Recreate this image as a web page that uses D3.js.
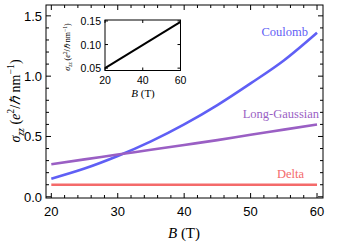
<!DOCTYPE html>
<meta charset="utf-8">
<style>
  body { margin: 0; background: #fff; }
  text { fill: #000; }
</style>
<body>
<script src="https://d3js.org/d3.v7.min.js"></script>
<script>
// chart data
const bField = [20, 25, 30, 35, 40, 45, 50, 55, 60];
const coulomb = [0.15, 0.234, 0.338, 0.459, 0.60, 0.76, 0.94, 1.13, 1.36];
const longGaussian = [0.27, 0.31, 0.35, 0.39, 0.43, 0.47, 0.515, 0.557, 0.60];
const delta = [0.10, 0.10, 0.10, 0.10, 0.10, 0.10, 0.10, 0.10, 0.10];
const insetB = [20, 60];
const insetVals = [0.05, 0.148];
const xTicks = [20, 30, 40, 50, 60];
const yTicks = [0.0, 0.5, 1.0, 1.5];
const insetXTicks = [20, 40, 60];
const insetYTicks = [0.05, 0.10, 0.15];

const width = 339, height = 246;
const svg = d3.select("body").append("svg")
  .attr("width", width).attr("height", height);

const x = d3.scaleLinear().domain([19.2, 60.9]).range([46, 323]);
const y = d3.scaleLinear().domain([-0.01, 1.59]).range([198, 5]);

// series lines
const series = [
  {name: "Coulomb", vals: coulomb, color: "#5f5ff5"},
  {name: "Long-Gaussian", vals: longGaussian, color: "#9a5fc4"},
  {name: "Delta", vals: delta, color: "#f46a6a"}
];
const line = d3.line().curve(d3.curveMonotoneX);
series.forEach(s => {
  svg.append("path")
    .attr("d", line(bField.map((b, i) => [x(b), y(s.vals[i])])))
    .attr("fill", "none")
    .attr("stroke", s.color)
    .attr("stroke-width", 2.6);
});

// series labels
const labels = [
  {t: "Coulomb", b: 60, v: 1.36, dx: -9, dy: 3, c: "#5f5ff5"},
  {t: "Long-Gaussian", b: 60, v: 0.60, dx: 2, dy: -6, c: "#9a5fc4"},
  {t: "Delta", b: 60, v: 0.10, dx: -13, dy: -7, c: "#f46a6a"}
];
labels.forEach(l => {
  svg.append("text")
    .attr("x", x(l.b) + l.dx).attr("y", y(l.v) + l.dy)
    .attr("text-anchor", "end")
    .style("font-family", "Liberation Serif, serif")
    .style("font-size", "12.5px")
    .style("fill", l.c)
    .text(l.t);
});

// frame and ticks
svg.append("rect")
  .attr("x", 46).attr("y", 5).attr("width", 277).attr("height", 193)
  .attr("fill", "none").attr("stroke", "#000").attr("stroke-width", 1);

const g = svg.append("g").attr("font-family", "Liberation Sans, Arial, sans-serif");
const xMinor = d3.range(20, 61, 2);
const yMinor = d3.range(0, 1.59, 0.1);
xMinor.forEach(v => {
  const major = v % 10 === 0;
  const len = major ? 5 : 3;
  g.append("line").attr("x1", x(v)).attr("x2", x(v)).attr("y1", 198).attr("y2", 198 - len).attr("stroke", "#000");
  g.append("line").attr("x1", x(v)).attr("x2", x(v)).attr("y1", 5).attr("y2", 5 + len).attr("stroke", "#000");
});
yMinor.forEach(v => {
  const major = Math.abs(v * 2 - Math.round(v * 2)) < 1e-6;
  const len = major ? 5 : 3;
  g.append("line").attr("x1", 46).attr("x2", 46 + len).attr("y1", y(v)).attr("y2", y(v)).attr("stroke", "#000");
  g.append("line").attr("x1", 323).attr("x2", 323 - len).attr("y1", y(v)).attr("y2", y(v)).attr("stroke", "#000");
});
xTicks.forEach(v => {
  g.append("text").attr("x", x(v)).attr("y", 216)
    .attr("text-anchor", "middle").style("font-size", "13px").text(v);
});
yTicks.forEach(v => {
  g.append("text").attr("x", 42).attr("y", y(v) + 5)
    .attr("text-anchor", "end").style("font-size", "13px").text(v.toFixed(1));
});

// axis titles
const xt = svg.append("text").attr("x", 184).attr("y", 238)
  .attr("text-anchor", "middle")
  .style("font-family", "Liberation Serif, serif").style("font-size", "15px");
xt.append("tspan").style("font-style", "italic").text("B");
xt.append("tspan").text("\u00A0(T)");

function yTitle(sel, size) {
  const sub = (size * 0.7) + "px";
  sel.append("tspan").style("font-style", "italic").text("σ");
  sel.append("tspan").style("font-style", "italic").attr("dy", size * 0.25)
    .style("font-size", sub).text("zz");
  sel.append("tspan").attr("dy", -size * 0.25).text("\u00A0(");
  sel.append("tspan").style("font-style", "italic").text("e");
  sel.append("tspan").attr("dy", -size * 0.4).style("font-size", sub).text("2");
  sel.append("tspan").attr("dy", size * 0.4).text("/");
  sel.append("tspan").style("font-style", "italic").text("ℏ");
  sel.append("tspan").text("\u00A0nm");
  sel.append("tspan").attr("dy", -size * 0.4).style("font-size", sub).text("−1");
  sel.append("tspan").attr("dy", size * 0.4).text(")");
}
const yt = svg.append("text")
  .attr("transform", "translate(20,101) rotate(-90)")
  .attr("text-anchor", "middle")
  .style("font-family", "Liberation Serif, serif").style("font-size", "14px");
yTitle(yt, 14);

// inset
const ix = d3.scaleLinear().domain([20, 60]).range([105, 180.5]);
const iy = d3.scaleLinear().domain([0.045, 0.152]).range([70.5, 20]);
svg.append("rect").attr("x", 105).attr("y", 20).attr("width", 75.5).attr("height", 50.5)
  .attr("fill", "#fff").attr("stroke", "#000").attr("stroke-width", 1);
svg.append("path")
  .attr("d", d3.line()(insetB.map((b, i) => [ix(b), iy(insetVals[i])])))
  .attr("stroke", "#000").attr("stroke-width", 2).attr("fill", "none");
const ig = svg.append("g").attr("font-family", "Liberation Sans, Arial, sans-serif");
insetXTicks.forEach(v => {
  ig.append("line").attr("x1", ix(v)).attr("x2", ix(v)).attr("y1", 70.5).attr("y2", 67.5).attr("stroke", "#000");
  ig.append("line").attr("x1", ix(v)).attr("x2", ix(v)).attr("y1", 20).attr("y2", 23).attr("stroke", "#000");
  ig.append("text").attr("x", ix(v)).attr("y", 84).attr("text-anchor", "middle")
    .style("font-size", "10.5px").text(v);
});
insetYTicks.forEach(v => {
  ig.append("line").attr("x1", 105).attr("x2", 108).attr("y1", iy(v)).attr("y2", iy(v)).attr("stroke", "#000");
  ig.append("line").attr("x1", 180.5).attr("x2", 177.5).attr("y1", iy(v)).attr("y2", iy(v)).attr("stroke", "#000");
  ig.append("text").attr("x", 101).attr("y", iy(v) + 4).attr("text-anchor", "end")
    .style("font-size", "10.5px").text(v.toFixed(2));
});
const ixt = svg.append("text").attr("x", 143).attr("y", 97).attr("text-anchor", "middle")
  .style("font-family", "Liberation Serif, serif").style("font-size", "11px");
ixt.append("tspan").style("font-style", "italic").text("B");
ixt.append("tspan").text("\u00A0(T)");
const iyt = svg.append("text")
  .attr("transform", "translate(70,47) rotate(-90)")
  .attr("text-anchor", "middle")
  .style("font-family", "Liberation Serif, serif").style("font-size", "8px");
yTitle(iyt, 8);
</script>
</body>
